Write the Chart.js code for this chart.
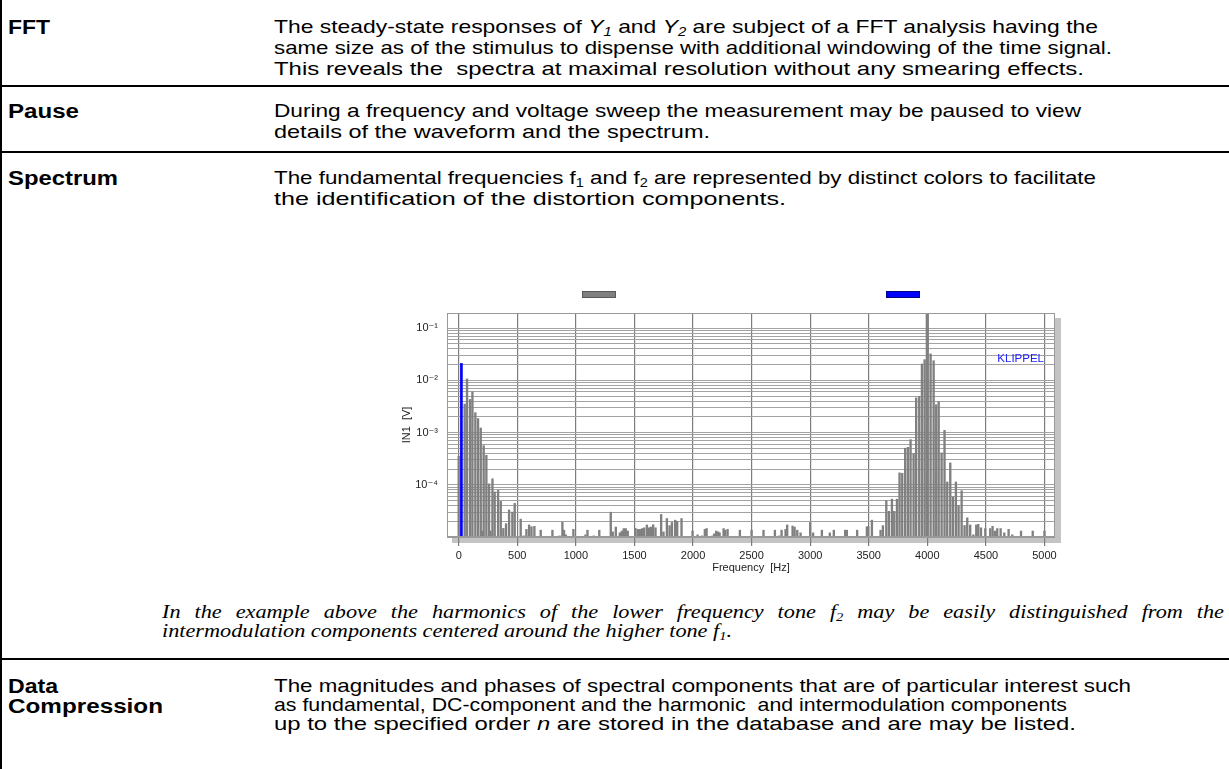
<!DOCTYPE html>
<html>
<head>
<meta charset="utf-8">
<script src="https://cdn.jsdelivr.net/npm/chart.js@4.4.1/dist/chart.umd.min.js"></script>
<style>
  html, body { margin: 0; padding: 0; background: #fff; }
  body { width: 1229px; height: 769px; position: relative; overflow: hidden; font-family: 'Liberation Sans', Arial, sans-serif; color: #000; }
  .vline { position: absolute; left: 0; top: 0; width: 2px; height: 769px; background: #000; }
  .hline { position: absolute; left: 0; width: 1229px; height: 2px; background: #000; }
  .lbl, .txt, .cap { position: absolute; white-space: pre; transform-origin: 0 50%; }
  .lbl { left: 8px; font-weight: bold; font-size: 20px; line-height: 22px; }
  .txt { left: 274px; font-size: 19px; line-height: 22px; }
  .cap { left: 162px; font-family: 'Liberation Serif', 'Times New Roman', serif; font-style: italic; font-size: 18.5px; line-height: 20px; }
  .cap.just { text-align: justify; text-align-last: justify; white-space: normal; }
  sub { font-size: 65%; vertical-align: -0.25em; line-height: 0; }
  #wrap { position: absolute; left: 380px; top: 280px; width: 700px; height: 300px; }
</style>
</head>
<body>
<div class="vline"></div>
<div class="hline" style="top:85px"></div>
<div class="hline" style="top:151px"></div>
<div class="hline" style="top:658px"></div>

<div class="lbl" data-w="42" style="top:16px">FFT</div>
<div class="txt" data-w="824" style="top:16px">The steady-state responses of <i>Y<sub>1</sub></i> and <i>Y<sub>2</sub></i> are subject of a FFT analysis having the</div>
<div class="txt" data-w="838" style="top:37px">same size as of the stimulus to dispense with additional windowing of the time signal.</div>
<div class="txt" data-w="810" style="top:58px">This reveals the  spectra at maximal resolution without any smearing effects.</div>

<div class="lbl" data-w="71" style="top:100px">Pause</div>
<div class="txt" data-w="807" style="top:100px">During a frequency and voltage sweep the measurement may be paused to view</div>
<div class="txt" data-w="436" style="top:121px">details of the waveform and the spectrum.</div>

<div class="lbl" data-w="110" style="top:167px">Spectrum</div>
<div class="txt" data-w="822" style="top:167px">The fundamental frequencies f<sub>1</sub> and f<sub>2</sub> are represented by distinct colors to facilitate</div>
<div class="txt" data-w="512" style="top:188px">the identification of the distortion components.</div>

<div id="wrap"><canvas id="chart" width="700" height="300"></canvas></div>

<div class="cap just" id="cap1" style="top:602px">In the example above the harmonics of the lower frequency tone f<sub>2</sub> may be easily distinguished from the</div>
<div class="cap" id="cap2" data-w="570" style="top:621px">intermodulation components centered around the higher tone f<sub>1</sub>.</div>

<div class="lbl" data-w="50" style="top:675px">Data</div>
<div class="lbl" data-w="155" style="top:695px">Compression</div>
<div class="txt" data-w="857" style="top:675px">The magnitudes and phases of spectral components that are of particular interest such</div>
<div class="txt" data-w="793" style="top:694px">as fundamental, DC-component and the harmonic  and intermodulation components</div>
<div class="txt" data-w="802" style="top:713px">up to the specified order <i>n</i> are stored in the database and are may be listed.</div>

<script>
// ============ SPECTRUM DATA ============
// fundamental f1 (gray, clipped at the top of the plot)
const f1Freq = [4000];
const f1Mag = [0.3];
// fundamental f2 (blue)
const f2Freq = [23];
const f2Mag = [0.021];
// harmonic + intermodulation components and noise floor
const distFreq = [
  0, 51, 71, 97, 117, 142, 165, 188, 197, 213, 236, 259, 271, 288, 307, 336, 359, 381, 404, 430,
  458, 478, 529, 555, 578, 601, 621, 646, 700, 800, 860, 885, 899, 914, 979, 1082, 1099, 1153, 1200,
  1298, 1315, 1341, 1375, 1392, 1409, 1426, 1443, 1509, 1529, 1549, 1566, 1583, 1606, 1623, 1640,
  1660, 1680, 1728, 1748, 1777, 1800, 1820, 1848, 1865, 1902, 1996, 2039, 2076, 2101, 2116, 2167,
  2181, 2198, 2215, 2227, 2261, 2275, 2295, 2400, 2500, 2602, 2699, 2736, 2756, 2790, 2804, 2850,
  2867, 2890, 2918, 3000, 3025, 3100, 3168, 3202, 3299, 3313, 3401, 3484, 3496, 3527, 3601, 3621,
  3650, 3672, 3698, 3718, 3741, 3763, 3786, 3811, 3834, 3857, 3883, 3905, 3931, 3954, 3977,
  4028, 4054, 4076, 4097, 4122, 4147, 4170, 4196, 4219, 4244, 4267, 4293, 4318, 4341, 4366,
  4393, 4418, 4435, 4458, 4495, 4537, 4557, 4577, 4597, 4626, 4657, 4694, 4725, 4800, 4900, 5000
];
const distMag = [
  3.5e-4, 3.5e-3, 1.06e-2, 4.3e-3, 6.0e-3, 2.4e-3, 1.85e-3, 1.22e-3, 1.3e-5, 5.6e-4, 3.66e-4, 1.04e-4, 1.3e-5, 1.3e-4, 7.3e-5, 7.8e-5, 4.8e-5, 1.46e-5, 1.8e-5, 3.3e-5,
  3.0e-5, 4.4e-5, 2.2e-5, 1.05e-5, 1.4e-5, 1.7e-5, 1.57e-5, 1.6e-5, 1.35e-5, 1.35e-5, 1.05e-5, 1.92e-5, 1.35e-5, 1.1e-5, 1.4e-5, 1.1e-5, 1.35e-5, 1.05e-5, 1.35e-5,
  2.98e-5, 1.25e-5, 1.55e-5, 1.2e-5, 1.3e-5, 1.45e-5, 1.45e-5, 1.3e-5, 1.46e-5, 1.4e-5, 1.4e-5, 1.45e-5, 1.5e-5, 1.7e-5, 1.5e-5, 1.55e-5,
  1.72e-5, 1.5e-5, 2.7e-5, 1.25e-5, 2.26e-5, 1.65e-5, 1.9e-5, 2.1e-5, 2.0e-5, 2.26e-5, 1.3e-5, 1.1e-5, 1.05e-5, 1.4e-5, 1.45e-5, 1.05e-5,
  1.15e-5, 1.3e-5, 1.25e-5, 1.2e-5, 1.45e-5, 1.35e-5, 1.4e-5, 1.35e-5, 1.35e-5, 1.35e-5, 1.35e-5, 1.05e-5, 1.35e-5, 1.4e-5, 1.7e-5, 1.62e-5,
  1.55e-5, 1.35e-5, 1.2e-5, 1.9e-5, 1.2e-5, 1.35e-5, 1.2e-5, 1.35e-5, 1.35e-5, 1.35e-5, 1.35e-5, 1.57e-5, 1.57e-5, 2.1e-5, 1.35e-5, 1.65e-5,
  5.0e-5, 3.1e-5, 5.3e-5, 3.1e-5, 5.3e-5, 1.69e-4, 1.66e-4, 5.0e-4, 5.2e-4, 7.3e-4, 3.95e-4, 4.6e-3, 4.9e-3, 2.05e-2, 2.48e-2,
  3.2e-2, 2.37e-2, 3.4e-3, 3.9e-3, 4.07e-4, 1.1e-3, 1.13e-4, 2.62e-4, 5.8e-5, 1.13e-4, 4.0e-5, 7.7e-5, 1.66e-5, 2.33e-5, 1.7e-5,
  1.1e-5, 1.7e-5, 1.75e-5, 1.5e-5, 1.45e-5, 1.45e-5, 1.6e-5, 1.3e-5, 1.45e-5, 1.45e-5, 1.2e-5, 1.4e-5, 1.1e-5, 1.3e-5, 1.3e-5, 1.3e-5
];

// ============ AXES ============
const xMin = -100, xMax = 5090;
const xTicks = [0, 500, 1000, 1500, 2000, 2500, 3000, 3500, 4000, 4500, 5000];
const yMin = 1e-5, yMax = 0.194;
const yDecades = [1e-5, 1e-4, 1e-3, 1e-2, 1e-1];
const yLabelExp = [-1, -2, -3, -4];
const yLabels = ['10⁻¹', '10⁻²', '10⁻³', '10⁻⁴'];

const toPoints = (fs, ms) => fs.map((f, i) => ({x: f, y: ms[i]}));

// log grid: 1..9 per decade
const yGrid = [];
yDecades.forEach(d => { for (let m = 1; m <= 9; m++) { const v = +(m * d).toPrecision(3); if (v <= yMax) yGrid.push(v); } });

// ============ TEXT FITTING (the page text is set wide) ============
document.querySelectorAll('[data-w]').forEach(el => {
  const w = el.getBoundingClientRect().width;
  el.style.transform = `scaleX(${(el.dataset.w / w).toFixed(4)})`;
});
{
  const c2 = document.getElementById('cap2');
  const s = c2.dataset.w / (c2.getBoundingClientRect().width / 1); // already scaled? measure before
  const c1 = document.getElementById('cap1');
  const sc = parseFloat(c2.style.transform.slice(7)) || 1;
  c1.style.width = (1062 / sc) + 'px';
  c1.style.transform = `scaleX(${sc})`;
}

// ============ PLUGINS ============
const frame = {
  id: 'frame',
  beforeDraw(c) {
    const {ctx, chartArea: a} = c;
    ctx.save();
    ctx.fillStyle = '#c4c4c4';
    ctx.fillRect(a.left + 5, a.top + 5, a.width + 1, a.height + 1);
    ctx.fillStyle = '#fff';
    ctx.fillRect(a.left, a.top, a.width, a.height);
    ctx.restore();
  },
  afterDatasetsDraw(c) {
    const {ctx, chartArea: a} = c;
    ctx.save();
    ctx.strokeStyle = '#999';
    ctx.lineWidth = 1;
    ctx.strokeRect(a.left + 0.5, a.top + 0.5, a.width - 1, a.height - 1);
    // brand text
    ctx.fillStyle = '#2020ff';
    ctx.font = '11.5px "Liberation Sans", Arial, sans-serif';
    ctx.textAlign = 'right';
    ctx.textBaseline = 'middle';
    ctx.fillText('KLIPPEL', a.right - 11, a.top + 46);
    // legend marks for the two fundamentals
    const cx = (a.left + a.right) / 2;
    [[c.data.datasets[1], -152], [c.data.datasets[0], 152]].forEach(([ds, off]) => {
      ctx.fillStyle = ds.backgroundColor;
      ctx.fillRect(cx + off - 17, a.top - 22, 34, 7);
      ctx.strokeStyle = ds.borderMark;
      ctx.strokeRect(cx + off - 17 + 0.5, a.top - 22 + 0.5, 33, 6);
    });
    ctx.restore();
  }
};

new Chart(document.getElementById('chart'), {
  type: 'bar',
  data: {
    datasets: [
      {label: 'f2', data: toPoints(f2Freq, f2Mag), backgroundColor: '#0000ff', borderMark: '#00008a', barThickness: 2, grouped: false},
      {label: 'f1', data: toPoints(f1Freq, f1Mag), backgroundColor: '#808080', borderMark: '#5a5a5a', barThickness: 2.6, grouped: false},
      {label: 'distortion', data: toPoints(distFreq, distMag), backgroundColor: '#808080', barThickness: 1.7, grouped: false}
    ]
  },
  options: {
    responsive: false,
    animation: false,
    events: [],
    layout: {padding: {left: 16, top: 33, right: 25, bottom: 0}},
    plugins: {legend: {display: false}, tooltip: {enabled: false}},
    scales: {
      x: {
        type: 'linear', min: xMin, max: xMax, offset: false,
        afterBuildTicks: s => { s.ticks = xTicks.map(v => ({value: v})); },
        afterFit: s => { s.height = 43; },
        grid: {offset: false, color: '#7c7c7c', lineWidth: 1.2, tickLength: 9, tickColor: '#7c7c7c'},
        border: {display: true, color: '#999'},
        ticks: {autoSkip: false, maxRotation: 0, padding: 3, color: '#222', font: {family: "'Liberation Sans', Arial", size: 11}, callback: v => String(v)},
        title: {display: true, text: 'Frequency  [Hz]', color: '#222', font: {family: "'Liberation Sans', Arial", size: 11}, padding: {top: 0, bottom: 5}}
      },
      y: {
        type: 'logarithmic', min: yMin, max: yMax,
        afterBuildTicks: s => { s.ticks = yGrid.map(v => ({value: v})); },
        afterFit: s => { s.width = 51; },
        grid: {color: '#a3a3a3', lineWidth: 1, drawTicks: false},
        border: {display: true, color: '#999'},
        ticks: {
          autoSkip: false, padding: 9, color: '#222', font: {family: "'Liberation Sans', 'DejaVu Sans', Arial", size: 11},
          callback: v => { const i = yLabelExp.findIndex(e => Math.abs(Math.log10(v) - e) < 1e-6); return i < 0 ? '' : yLabels[i]; }
        },
        title: {display: true, text: 'IN1  [V]', color: '#222', font: {family: "'Liberation Sans', Arial", size: 11}, padding: {top: 4, bottom: 0}}
      }
    }
  },
  plugins: [frame]
});
</script>
</body>
</html>
